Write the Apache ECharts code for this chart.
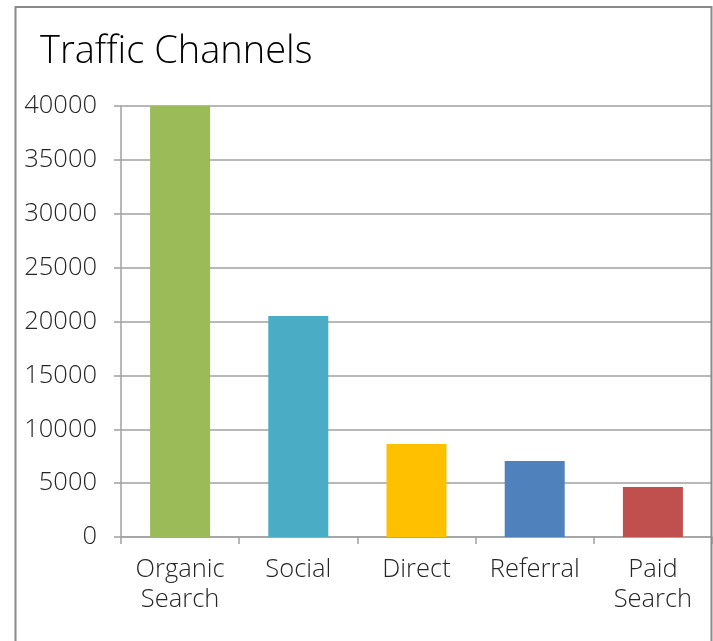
<!DOCTYPE html>
<html>
<head>
<meta charset="utf-8">
<script src="https://cdn.jsdelivr.net/npm/echarts@6/dist/echarts.min.js"></script>
<style>
html,body{margin:0;padding:0;background:#fff;}
#main{width:713px;height:641px;}
</style>
</head>
<body>
<div id="main"></div>
<script>
var categories = ['Organic\nSearch', 'Social', 'Direct', 'Referral', 'Paid\nSearch'];
var values = [40000, 20500, 8630, 7050, 4640];
var barColors = ['#9BBB59', '#4BACC6', '#FFC000', '#4F81BD', '#C0504D'];
var yTicks = { min: 0, max: 40000, interval: 5000 };

var chart = echarts.init(document.getElementById('main'));
var fontFam = '"Open Sans", Lato, sans-serif';
chart.setOption({
  backgroundColor: '#ffffff',
  animation: false,
  title: {
    text: 'Traffic Channels',
    left: 35,
    top: 28,
    textStyle: { fontFamily: fontFam, fontSize: 38, fontWeight: 300, color: '#000000' }
  },
  graphic: [{
    type: 'rect',
    shape: { x: 15.5, y: 7, width: 696, height: 700 },
    style: { fill: 'none', stroke: '#8a8a8a', lineWidth: 2 },
    z: 100
  }],
  grid: { left: 121, top: 106, right: 1, bottom: 104, containLabel: false },
  xAxis: {
    type: 'category',
    data: categories,
    axisLine: { show: true, lineStyle: { color: '#a0a0a0', width: 1.5 } },
    axisTick: { show: true, length: 7, alignWithLabel: false, lineStyle: { color: '#a0a0a0', width: 1.5 } },
    axisLabel: { margin: 18, fontFamily: fontFam, fontSize: 25.5, fontWeight: 300, lineHeight: 30, color: '#262626', interval: 0 }
  },
  yAxis: {
    type: 'value',
    min: yTicks.min, max: yTicks.max, interval: yTicks.interval,
    axisLine: { show: true, lineStyle: { color: '#a0a0a0', width: 1.5 } },
    axisTick: { show: true, length: 7, lineStyle: { color: '#a0a0a0', width: 1.5 } },
    axisLabel: { margin: 24, fontFamily: fontFam, fontSize: 25.5, fontWeight: 300, color: '#262626', formatter: function (v) { return String(v); } },
    splitLine: { show: true, lineStyle: { color: '#a0a0a0', width: 1.5 } }
  },
  series: [{
    type: 'bar',
    barWidth: 60,
    data: values.map(function (v, i) { return { value: v, itemStyle: { color: barColors[i] } }; })
  }]
});
</script>
</body>
</html>
